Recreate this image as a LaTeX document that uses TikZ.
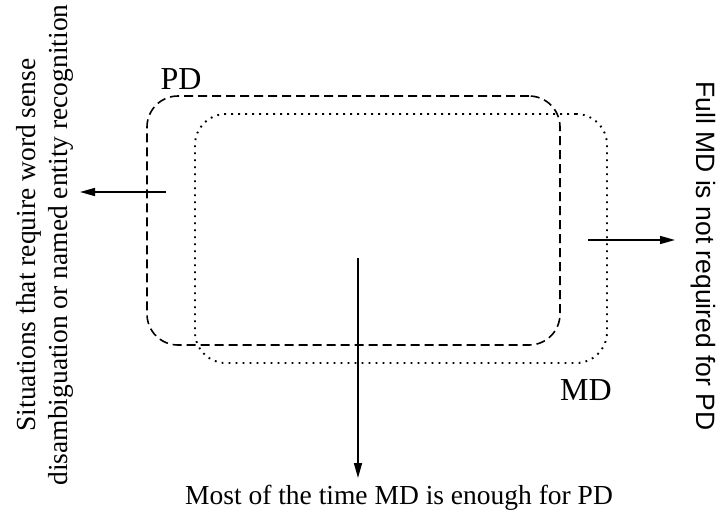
\documentclass[tikz,border=0pt]{standalone}
\usepackage{fontspec}
\setmainfont{Liberation Serif}
\setsansfont{Liberation Sans}
\usetikzlibrary{arrows.meta}
\begin{document}
\begin{tikzpicture}[x=1pt,y=-1pt,
  box/.style={draw, line width=1.6pt, minimum width=#1, minimum height=249pt, rounded corners=31pt, inner sep=0pt},
  pdline/.style={dash pattern=on 9pt off 5pt},
  mdline/.style={line width=1.9pt, dash pattern=on 1.8pt off 5.2pt},
  txt/.style={font=\fontsize{27.5}{32}\selectfont, inner sep=0pt},
  lbl/.style={font=\fontsize{32}{36}\selectfont, inner sep=0pt},
  arr/.style={line width=1.6pt, -{Triangle[length=15pt,width=8pt]}}]
\useasboundingbox (0,0) rectangle (717,515);
\node[box=413pt, pdline] (pd) at (353.5,220.5) {};
\node[box=412pt, mdline] (md) at (401,238.5) {};
\node[lbl] (pdl) at (181,79) {PD};
\node[lbl] (mdl) at (586,390) {MD};
\node[txt, rotate=90, align=center] (lt) at (45,245) {Situations that require word sense\\disambiguation or named entity recognition};
\node[txt, rotate=-90, font=\sffamily\fontsize{26.5}{30}\selectfont] (rt) at (703,256) {Full MD is not required for PD};
\node[txt] (bt) at (399,498) {Most of the time MD is enough for PD};
\coordinate (ls) at (166,192);
\coordinate (le) at (80,192);
\coordinate (rs) at (588,240);
\coordinate (re) at (675,240);
\coordinate (ds) at (358,258);
\coordinate (de) at (358,478);
\draw[arr] (ls) -- (le);
\draw[arr] (rs) -- (re);
\draw[arr] (ds) -- (de);
\end{tikzpicture}
\end{document}
